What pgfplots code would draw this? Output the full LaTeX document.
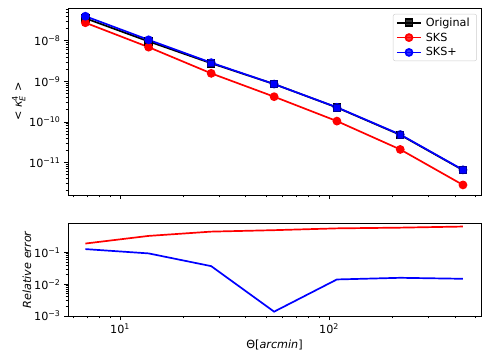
\documentclass[border=0pt]{standalone}
\usepackage{fontspec}
\setmainfont{DejaVu Sans}
\usepackage{pgfplots}
\pgfplotsset{compat=1.18}

\definecolor{mplred}{HTML}{FF0000}
\definecolor{mplblue}{HTML}{0000FF}

% log tick label as 10^n set in the text font
\newcommand{\logtick}[1]{\pgfmathtruncatemacro\ex{round(#1/ln(10))}10\textsuperscript{\ifnum\ex<0 −\number\numexpr-\ex\relax\else\ex\fi}}
\newcommand{\fs}{\fontsize{11.2}{13.4}\selectfont}
\newcommand{\sfs}{\fontsize{8}{9}\selectfont}

\pgfplotstableread{
theta  orig      sks       sksp
6.83   3.60e-8   2.80e-8   4.05e-8
13.7   9.70e-9   7.00e-9   1.06e-8
27.3   2.80e-9   1.58e-9   2.90e-9
54.6   8.60e-10  4.20e-10  8.60e-10
109    2.27e-10  1.05e-10  2.30e-10
219    4.80e-11  2.10e-11  4.90e-11
437    6.50e-12  2.80e-12  6.60e-12
}\kappadata

\pgfplotstableread{
theta  errsks  errsksp
6.83   0.19    0.127
13.7   0.33    0.093
27.3   0.45    0.037
54.6   0.50    0.00137
109    0.57    0.0141
219    0.60    0.0159
437    0.65    0.0148
}\errdata

\begin{document}
\begin{tikzpicture}
\useasboundingbox (-68pt,-167pt) rectangle (422pt,195pt);
\begin{loglogaxis}[scale only axis, width=413pt, height=187pt,
  at={(0pt,0pt)}, anchor=south west,
  xmin=5.64, xmax=533,
  ymin=1.58e-12, ymax=6.46e-8,
  axis line style={line width=0.9pt},
  tick align=outside, tick pos=left,
  major tick length=4pt, minor tick length=2.3pt,
  every tick/.style={black, line width=0.8pt},
  xticklabels={}, yticklabel={\logtick{\tick}},
  tick label style={font=\fs},
  label style={font=\fs},
  ylabel={< \textit{κ}$^{\mbox{\sfs 4}}_{\mbox{\sfs\itshape E}}$ >},
  ylabel style={yshift=-3pt},
  legend style={at={(rel axis cs:0.990,0.968)}, anchor=north east,
    draw=black!20, rounded corners=2pt, fill=white, fill opacity=0.8, text opacity=1,
    font=\fs, row sep=3pt, inner xsep=3pt, inner ysep=2.5pt,
    nodes={inner xsep=4pt, inner ysep=1pt}},
  legend cell align=left,
  legend image code/.code={\draw[mark repeat=2, mark phase=2] plot coordinates {(0pt,0pt) (12pt,0pt) (24pt,0pt)};},
]
\addplot[black, line width=1.7pt, mark=square*, mark size=3.4pt] table[x=theta, y=orig] {\kappadata};
\addlegendentry{Original}
\addplot[mplred, line width=1.7pt, mark=*, mark size=3.5pt] table[x=theta, y=sks] {\kappadata};
\addlegendentry{SKS}
\addplot[mplblue, line width=1.7pt, mark=*, mark size=3.5pt] table[x=theta, y=sksp] {\kappadata};
\addlegendentry{SKS+}
\addplot[mplblue, draw=none, mark=square*, mark size=3.4pt, forget plot,
  mark options={fill=mplblue, draw=blue!60!black, line width=0.6pt},
  skip coords between index={0}{2}] table[x=theta, y=orig] {\kappadata};
\end{loglogaxis}

\begin{loglogaxis}[scale only axis, width=413pt, height=93pt,
  at={(0pt,-121pt)}, anchor=south west,
  xmin=5.64, xmax=533,
  ymin=1e-3, ymax=0.84,
  ytick={1e-3,1e-2,1e-1},
  axis line style={line width=0.9pt},
  tick align=outside, tick pos=left,
  major tick length=4pt, minor tick length=2.3pt,
  every tick/.style={black, line width=0.8pt},
  xticklabel={\logtick{\tick}}, yticklabel={\logtick{\tick}},
  tick label style={font=\fs},
  label style={font=\fs},
  xlabel={Θ[\textit{arcmin}]},
  ylabel={\textit{Relative error}},
  ylabel style={yshift=-4pt},
]
\addplot[mplred, line width=1.7pt] table[x=theta, y=errsks] {\errdata};
\addplot[mplblue, line width=1.7pt] table[x=theta, y=errsksp] {\errdata};
\end{loglogaxis}
\end{tikzpicture}
\end{document}
